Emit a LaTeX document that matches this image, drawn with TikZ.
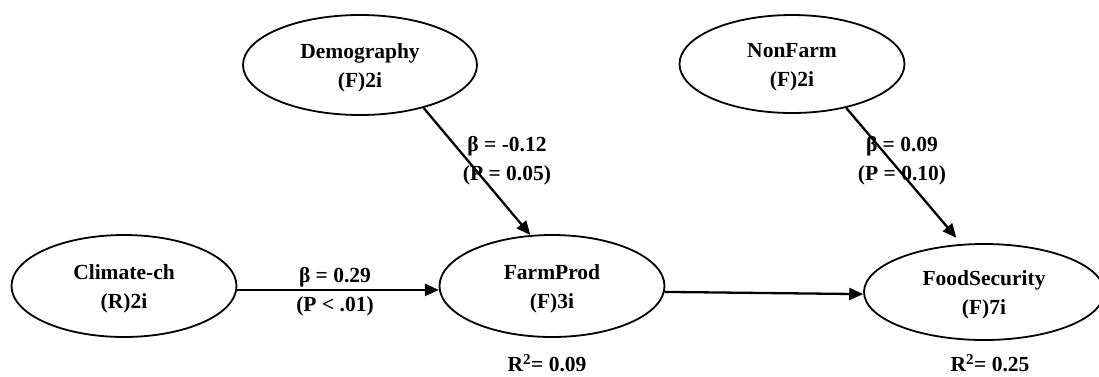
\documentclass[tikz,border=0pt]{standalone}
\usepackage{fontspec}
\setmainfont{Liberation Serif}
\usetikzlibrary{shapes.geometric,arrows.meta}
\begin{document}
\begin{tikzpicture}[x=1pt,y=-1pt,
  latent/.style={ellipse,draw,line width=1.8pt,inner sep=0pt,align=center,
    font=\fontsize{21.5}{29}\selectfont\bfseries},
  lbl/.style={align=center,inner sep=0pt,font=\fontsize{21.5}{29}\selectfont\bfseries},
  path/.style={line width=2.3pt,-{Triangle[length=14pt,width=12pt]}}]
\useasboundingbox (0,0) rectangle (1099,376);
\node[latent,minimum width=234pt,minimum height=100pt] (dem) at (360,65) {\rule{0pt}{20pt}Demography\\(F)2i};
\node[latent,minimum width=225pt,minimum height=98pt] (non) at (792,64) {\rule{0pt}{20pt}NonFarm\\(F)2i};
\node[latent,minimum width=225pt,minimum height=102pt] (clim) at (124,286) {\rule{0pt}{20pt}Climate-ch\\(R)2i};
\node[latent,minimum width=225pt,minimum height=102pt] (farm) at (552,286) {\rule{0pt}{20pt}FarmProd\\(F)3i};
\node[latent,minimum width=240pt,minimum height=96pt] (food) at (984,292) {\rule{0pt}{20pt}FoodSecurity\\(F)7i};
\draw[path] (dem.-34) -- (farm.113);
\draw[path,shorten >=8pt] (non.-39) -- (food.115);
\draw[path] (clim.-2) -- (farm.182);
\draw[path] (farm.-3) -- (food.181);
\node[lbl] (l1) at (507,161) {β = -0.12\\(P = 0.05)};
\node[lbl] (l2) at (902,161) {β = 0.09\\(P = 0.10)};
\node[lbl] (l3) at (335,292) {β = 0.29\\(P < .01)};
\node[lbl] (r1) at (547,363) {R\textsuperscript{2}= 0.09};
\node[lbl] (r2) at (990,363) {R\textsuperscript{2}= 0.25};
\end{tikzpicture}
\end{document}
